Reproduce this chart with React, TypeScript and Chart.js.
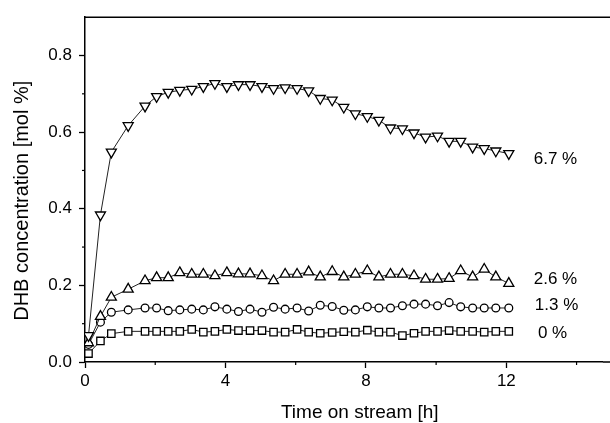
import React, { useEffect, useRef } from 'react';
import { Chart, registerables } from 'chart.js';

Chart.register(...registerables);

const times = [0.1, 0.44, 0.75, 1.23, 1.71, 2.04, 2.37, 2.7, 3.04, 3.37, 3.7, 4.04, 4.37, 4.7, 5.04, 5.37, 5.7, 6.04, 6.37, 6.7, 7.04, 7.37, 7.7, 8.04, 8.37, 8.7, 9.04, 9.37, 9.7, 10.04, 10.37, 10.7, 11.04, 11.37, 11.7, 12.07];

const conc67 = [0.069, 0.384, 0.548, 0.617, 0.668, 0.693, 0.704, 0.709, 0.712, 0.719, 0.727, 0.719, 0.724, 0.724, 0.719, 0.714, 0.716, 0.714, 0.708, 0.688, 0.684, 0.665, 0.648, 0.641, 0.631, 0.611, 0.609, 0.598, 0.587, 0.59, 0.576, 0.576, 0.561, 0.557, 0.551, 0.544];
const conc26 = [0.05, 0.119, 0.169, 0.19, 0.212, 0.22, 0.22, 0.233, 0.229, 0.229, 0.225, 0.233, 0.23, 0.23, 0.225, 0.212, 0.229, 0.229, 0.235, 0.222, 0.236, 0.222, 0.229, 0.238, 0.222, 0.229, 0.229, 0.225, 0.216, 0.216, 0.218, 0.238, 0.222, 0.242, 0.222, 0.205];
const conc13 = [0.046, 0.104, 0.13, 0.136, 0.141, 0.141, 0.134, 0.136, 0.138, 0.136, 0.144, 0.138, 0.132, 0.138, 0.13, 0.143, 0.138, 0.141, 0.133, 0.148, 0.145, 0.135, 0.136, 0.144, 0.141, 0.141, 0.147, 0.151, 0.151, 0.147, 0.155, 0.144, 0.141, 0.141, 0.141, 0.141];
const conc0 = [0.022, 0.055, 0.074, 0.08, 0.08, 0.08, 0.08, 0.08, 0.085, 0.078, 0.08, 0.085, 0.082, 0.082, 0.082, 0.078, 0.078, 0.085, 0.078, 0.075, 0.077, 0.079, 0.078, 0.083, 0.078, 0.078, 0.069, 0.075, 0.08, 0.08, 0.082, 0.08, 0.08, 0.078, 0.08, 0.08];

const seriesLabels = ['6.7 %', '2.6 %', '1.3 %', '0 %'];
const labelX = [12.78, 12.78, 12.81, 12.9];
const labelY = [0.53, 0.216, 0.149, 0.076];

const xTitle = '      Time on stream [h]';
const yTitle = 'DHB concentration [mol %]    ';

const FONT = "'Liberation Sans', Arial, Helvetica, sans-serif";

export default function App() {
  const ref = useRef<HTMLCanvasElement>(null);

  useEffect(() => {
    document.body.style.margin = '0';
    const canvas = ref.current;
    if (!canvas) return;

    const mk = (arr: number[]) => times.map((t, i) => ({ x: t, y: arr[i] }));

    const base = {
      showLine: true,
      borderColor: '#222',
      borderWidth: 1,
      pointBackgroundColor: '#fff',
      pointBorderColor: '#000',
      pointBorderWidth: 1.3,
      tension: 0,
    };

    const isMajorX = (v: number) => Math.round(v) % 4 === 0;
    const isMajorY = (v: number) => Math.round(v * 10) % 2 === 0;

    const extras = {
      id: 'extras',
      afterDraw(chart: any) {
        const ctx = chart.ctx;
        const { left, right, top, bottom } = chart.chartArea;
        const xs = chart.scales.x;
        const ys = chart.scales.y;
        ctx.save();
        ctx.strokeStyle = '#000';
        ctx.lineWidth = 1.5;
        ctx.beginPath();
        ctx.moveTo(left, top);
        ctx.lineTo(chart.width, top);
        ctx.moveTo(right, bottom);
        ctx.lineTo(chart.width, bottom);
        ctx.stroke();
        ctx.lineWidth = 1.2;
        xs.ticks.forEach((t: any) => {
          if (!isMajorX(t.value)) {
            const px = xs.getPixelForValue(t.value);
            ctx.beginPath();
            ctx.moveTo(px, bottom);
            ctx.lineTo(px, bottom + 3);
            ctx.stroke();
          }
        });
        ys.ticks.forEach((t: any) => {
          if (!isMajorY(t.value) && t.value < 0.85) {
            const py = ys.getPixelForValue(t.value);
            ctx.beginPath();
            ctx.moveTo(left, py);
            ctx.lineTo(left - 3, py);
            ctx.stroke();
          }
        });
        ctx.fillStyle = '#000';
        ctx.font = `17px ${FONT}`;
        ctx.textAlign = 'left';
        ctx.textBaseline = 'middle';
        seriesLabels.forEach((s, i) => {
          ctx.fillText(s, xs.getPixelForValue(labelX[i]), ys.getPixelForValue(labelY[i]));
        });
        ctx.restore();
      },
    };

    const chart = new Chart(canvas, {
      type: 'scatter',
      data: {
        datasets: [
          { ...base, label: '6.7 %', data: mk(conc67), pointStyle: 'triangle', rotation: 180, pointRadius: 5.8 },
          { ...base, label: '2.6 %', data: mk(conc26), pointStyle: 'triangle', pointRadius: 5.8 },
          { ...base, label: '1.3 %', data: mk(conc13), pointStyle: 'circle', pointRadius: 3.9 },
          { ...base, label: '0 %', data: mk(conc0), pointStyle: 'rect', pointRadius: 5.2 },
        ],
      } as any,
      options: {
        responsive: false,
        animation: false,
        layout: { padding: { top: 14, left: 0, right: 0, bottom: 0 } },
        plugins: { legend: { display: false }, tooltip: { enabled: false } },
        scales: {
          x: {
            type: 'linear',
            min: 0,
            max: 14.75,
            afterFit(s: any) { s.height = 61; s.paddingRight = 0; s.paddingLeft = 0; },
            grid: {
              drawOnChartArea: false,
              tickLength: 6,
              tickWidth: 1.3,
              tickColor: (c: any) => (c.tick && isMajorX(c.tick.value) ? '#000' : 'rgba(0,0,0,0)'),
            },
            border: { color: '#000', width: 1.5 },
            ticks: {
              stepSize: 2,
              includeBounds: false,
              autoSkip: false,
              maxRotation: 0,
              padding: 3,
              color: '#000',
              font: { family: FONT, size: 17 },
              callback: (v: any) => (isMajorX(Number(v)) && Number(v) <= 12 ? String(v) : ''),
            },
            title: {
              display: true,
              text: xTitle,
              color: '#000',
              font: { family: FONT, size: 19 },
              padding: { top: 0, bottom: -1 },
            },
          },
          y: {
            type: 'linear',
            min: 0,
            max: 0.9,
            afterFit(s: any) { s.width = 85; },
            grid: {
              drawOnChartArea: false,
              tickLength: 6,
              tickWidth: 1.3,
              tickColor: (c: any) => (c.tick && isMajorY(c.tick.value) && c.tick.value < 0.85 ? '#000' : 'rgba(0,0,0,0)'),
            },
            border: { color: '#000', width: 1.5 },
            ticks: {
              stepSize: 0.1,
              autoSkip: false,
              padding: 7,
              color: '#000',
              font: { family: FONT, size: 17 },
              callback: (v: any) => (isMajorY(Number(v)) && Number(v) < 0.85 ? Number(v).toFixed(1) : ''),
            },
            title: {
              display: true,
              text: yTitle,
              color: '#000',
              font: { family: FONT, size: 20 },
              padding: { top: 10, bottom: 0 },
            },
          },
        },
      } as any,
      plugins: [extras],
    });

    return () => chart.destroy();
  }, []);

  return <canvas ref={ref} width={610} height={423} style={{ display: 'block' }} />;
}
